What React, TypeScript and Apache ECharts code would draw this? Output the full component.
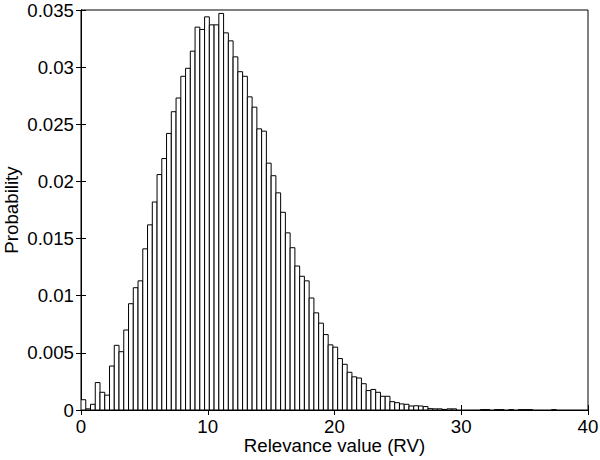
import React, { useEffect, useRef } from "react";
import * as echarts from "echarts";

// Histogram: 100 bins of equal width starting at 0
const binStart = 0;
const binWidth = 0.375;
const probabilities: number[] = [
  0.0009, 0.0001, 0.0005, 0.0024, 0.00155, 0.0013, 0.00385, 0.00566, 0.0051, 0.007,
  0.0093, 0.0107, 0.0113, 0.0141, 0.0162, 0.0182, 0.0206, 0.022, 0.0242, 0.0261,
  0.0273, 0.0292, 0.0299, 0.0314, 0.0335, 0.0333, 0.0344, 0.0337, 0.0337, 0.0347,
  0.033, 0.0323, 0.0309, 0.0296, 0.0292, 0.0274, 0.0265, 0.0246, 0.0244, 0.0216,
  0.0205, 0.019, 0.0173, 0.0155, 0.0142, 0.0126, 0.0117, 0.0113, 0.0098, 0.0085,
  0.0076, 0.0066, 0.0057, 0.0055, 0.0045, 0.004, 0.0033, 0.0029, 0.0028, 0.0023,
  0.0017, 0.0018, 0.00155, 0.0012, 0.0012, 0.00073, 0.00064, 0.00053, 0.0005, 0.00035,
  0.00037, 0.00035, 0.0003, 0.00012, 0.0001, 0.0001, 0.00005, 0.0001, 0.0001, 0,
  0, 0, 0, 0, 0.00003, 0.00003, 0, 0.00003, 0.00003, 0,
  0.00003, 0, 0.00003, 0.00003, 0.00003, 0, 0, 0, 0, 0.00003,
];

const xTickValues = [0, 10, 20, 30, 40];
const yTickValues = [0, 0.005, 0.01, 0.015, 0.02, 0.025, 0.03, 0.035];
const xTitle = "Relevance value (RV)";
const yTitle = "Probability";

const FONT = "'Liberation Sans', Arial, Helvetica, sans-serif";

export default function App() {
  const ref = useRef<HTMLDivElement>(null);

  useEffect(() => {
    if (!ref.current) return;
    const chart = echarts.init(ref.current, undefined, { renderer: "svg" });

    const data = probabilities.map((p, i) => [
      binStart + i * binWidth,
      binStart + (i + 1) * binWidth,
      p,
    ]);

    const xMin = xTickValues[0];
    const xMax = xTickValues[xTickValues.length - 1];
    const xInt = xTickValues[1] - xTickValues[0];
    const yMin = yTickValues[0];
    const yMax = yTickValues[yTickValues.length - 1];
    const yInt = yTickValues[1] - yTickValues[0];

    const tick = { inside: true, length: 5, lineStyle: { color: "#000", width: 1 } };
    const line = { show: true, lineStyle: { color: "#000", width: 1 } };
    const label = { color: "#000", fontSize: 18.7, lineHeight: 19, fontFamily: FONT };

    chart.setOption({
      animation: false,
      backgroundColor: "#fff",
      grid: {
        left: 81,
        right: 12,
        top: 10,
        bottom: 50,
        outerBoundsMode: "none",
        containLabel: false,
        show: true,
        borderColor: "#000",
        borderWidth: 1,
        backgroundColor: "transparent",
      },
      xAxis: [
        {
          type: "value",
          position: "bottom",
          min: xMin,
          max: xMax,
          interval: xInt,
          axisLine: line,
          axisTick: tick,
          splitLine: { show: false },
          axisLabel: { ...label, margin: 7 },
          name: xTitle,
          nameLocation: "middle",
          nameGap: 26,
          nameMoveOverlap: false,
          nameTextStyle: { ...label },
        },
        {
          type: "value",
          position: "top",
          min: xMin,
          max: xMax,
          interval: xInt,
          axisLine: line,
          axisTick: tick,
          splitLine: { show: false },
          axisLabel: { show: false },
        },
      ],
      yAxis: [
        {
          type: "value",
          position: "left",
          min: yMin,
          max: yMax,
          interval: yInt,
          axisLine: line,
          axisTick: tick,
          splitLine: { show: false },
          axisLabel: { ...label, margin: 7 },
          name: yTitle,
          nameLocation: "middle",
          nameGap: 60,
          nameMoveOverlap: false,
          nameTextStyle: { ...label },
        },
        {
          type: "value",
          position: "right",
          min: yMin,
          max: yMax,
          interval: yInt,
          axisLine: line,
          axisTick: tick,
          splitLine: { show: false },
          axisLabel: { show: false },
        },
      ],
      series: [
        {
          type: "custom",
          xAxisIndex: 0,
          yAxisIndex: 0,
          clip: true,
          encode: { x: [0, 1], y: 2 },
          data,
          renderItem: (params: any, api: any) => {
            const v = api.value(2);
            if (!v) return null;
            const p0 = api.coord([api.value(0), v]);
            const p1 = api.coord([api.value(1), 0]);
            return {
              type: "rect",
              shape: {
                x: p0[0],
                y: p0[1],
                width: p1[0] - p0[0],
                height: p1[1] - p0[1],
              },
              style: { fill: "#fff", stroke: "#000", lineWidth: 1 },
            };
          },
        },
      ],
    });

    return () => chart.dispose();
  }, []);

  return (
    <div
      ref={ref}
      style={{ position: "absolute", left: 0, top: 0, width: 600, height: 460 }}
    />
  );
}
